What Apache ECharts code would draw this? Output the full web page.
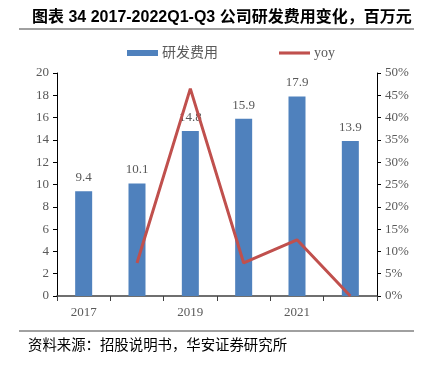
<!DOCTYPE html>
<html>
<head>
<meta charset="utf-8">
<script src="https://cdn.jsdelivr.net/npm/echarts@6/dist/echarts.min.js"></script>
<style>
html, body { margin: 0; padding: 0; background: #fff; }
#main { width: 431px; height: 367px; }
</style>
</head>
<body>
<div id="main"></div>
<script>
var years = ['2017', '2018', '2019', '2020', '2021', '2022Q1-Q3'];
var rdCost = [9.4, 10.1, 14.8, 15.9, 17.9, 13.9];
var yoy = [null, 7.4, 46.5, 7.4, 12.6, 0];
var leftTicks = [0, 20, 2];
var rightTicks = [0, 50, 5];

var chart = echarts.init(document.getElementById('main'));
var serif = '"Liberation Serif", "Noto Sans CJK SC", serif';
var grey = '#595959';

var option = {
    animation: false,
    title: {
        text: '图表 34 2017-2022Q1-Q3 公司研发费用变化，百万元',
        left: 27,
        top: 5,
        textStyle: {
            fontFamily: '"Liberation Sans", "Noto Sans CJK SC", sans-serif',
            fontSize: 16,
            fontWeight: 'bold',
            color: '#000'
        }
    },
    graphic: [
        { type: 'line', shape: { x1: 19, y1: 29, x2: 414, y2: 29 }, style: { stroke: '#808080', lineWidth: 1.5 } },
        { type: 'line', shape: { x1: 19, y1: 331, x2: 414, y2: 331 }, style: { stroke: '#808080', lineWidth: 1.5 } },
        {
            type: 'text', left: 28, top: 337,
            style: { text: '资料来源：招股说明书，华安证券研究所', fontSize: 14.4, fill: '#000', fontFamily: '"Noto Sans CJK SC", sans-serif' }
        }
    ],
    legend: {
        top: 41,
        left: 122,
        itemGap: 61,
        itemWidth: 31,
        itemHeight: 6,
        textStyle: { color: grey, fontSize: 14, fontFamily: serif, padding: [0, 0, 0, -1] },
        data: [
            { name: '研发费用', icon: 'rect' },
            { name: 'yoy', icon: 'path://M0,0 L10,0 L10,1 L0,1 Z', itemStyle: { color: '#C0504D' } }
        ]
    },
    grid: { left: 57, right: 54, top: 73, bottom: 71 },
    xAxis: {
        type: 'category',
        data: years,
        axisLine: { lineStyle: { color: '#404040', width: 1.5 } },
        axisTick: { show: true, alignWithLabel: false, interval: 0, lineStyle: { color: '#404040' } },
        axisLabel: { interval: 1, color: grey, fontSize: 13, fontFamily: serif, margin: 10 }
    },
    yAxis: [
        {
            type: 'value', min: leftTicks[0], max: leftTicks[1], interval: leftTicks[2],
            axisLine: { show: true, lineStyle: { color: '#000' } },
            axisTick: { show: true, length: 4, inside: false, lineStyle: { color: '#000' } },
            splitLine: { show: false },
            axisLabel: { color: grey, fontSize: 13, fontFamily: serif, margin: 8 }
        },
        {
            type: 'value', min: rightTicks[0], max: rightTicks[1], interval: rightTicks[2],
            axisLine: { show: true, lineStyle: { color: '#000' } },
            axisTick: { show: true, length: 4, lineStyle: { color: '#000' } },
            splitLine: { show: false },
            axisLabel: { color: grey, fontSize: 13, fontFamily: serif, margin: 8, formatter: '{value}%' }
        }
    ],
    series: [
        {
            name: '研发费用',
            type: 'bar',
            data: rdCost,
            barWidth: 17,
            itemStyle: { color: '#4F81BD' },
            label: { show: true, position: 'top', distance: 7, color: grey, fontSize: 13, fontFamily: serif }
        },
        {
            name: 'yoy',
            type: 'line',
            yAxisIndex: 1,
            data: yoy,
            symbol: 'none',
            lineStyle: { color: '#C0504D', width: 3 },
            itemStyle: { color: '#C0504D' }
        }
    ]
};
chart.setOption(option);
</script>
</body>
</html>
